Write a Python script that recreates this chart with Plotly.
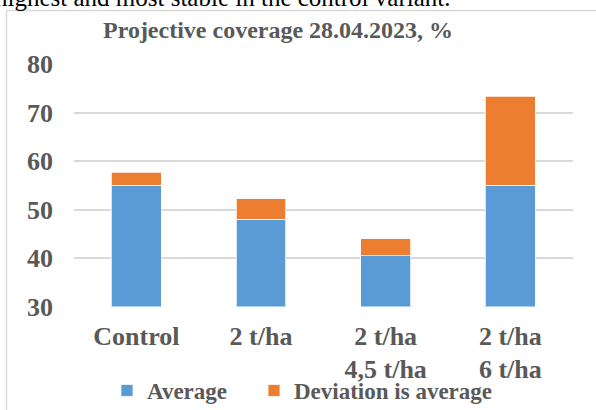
import plotly.graph_objects as go

# Projective coverage, 28.04.2023 (%)
categories = ["Control", "2 t/ha", "2 t/ha<br>4,5 t/ha", "2 t/ha<br>6 t/ha"]
average = [55.0, 48.0, 40.5, 55.0]
deviation = [2.7, 4.2, 3.5, 18.4]
y_ticks = [30, 40, 50, 60, 70, 80]

W, H = 596, 410
FONT = "Liberation Serif"
GREY = "#595959"
GRID = "#d9d9d9"


def px(x):
    return x / W


def py(y):
    return 1 - y / H


fig = go.Figure()
fig.add_trace(go.Bar(
    x=categories, y=average, name="Average",
    marker=dict(color="#5B9BD5", line=dict(color="white", width=0.75)),
    legendwidth=102,
))
fig.add_trace(go.Bar(
    x=categories, y=deviation, name="Deviation is average",
    marker=dict(color="#ED7D31", line=dict(color="white", width=0.75)),
))

fig.update_layout(
    width=W, height=H,
    margin=dict(l=0, r=0, t=0, b=0, autoexpand=False),
    paper_bgcolor="white", plot_bgcolor="white",
    barmode="stack", bargap=0.6,
    font=dict(family=FONT, color=GREY),
    showlegend=True,
    legend=dict(
        orientation="h", x=px(107), y=py(369), xanchor="left", yanchor="top",
        font=dict(family=FONT, size=23, color=GREY, weight="bold"),
        bgcolor="rgba(0,0,0,0)", traceorder="normal",
    ),
    xaxis=dict(
        domain=[px(74), px(572.7)], showgrid=False, showline=False,
        ticks="", tickfont=dict(family=FONT, size=26, color=GREY, weight="bold"),
        ticklabelstandoff=11, automargin=False,
    ),
    yaxis=dict(
        domain=[py(306.5), py(64)], range=[30, 80], tickvals=y_ticks,
        showgrid=True, gridcolor=GRID, gridwidth=1.5, zeroline=False,
        showline=False, ticks="",
        tickfont=dict(family=FONT, size=26, color=GREY, weight="bold"),
        ticklabelstandoff=20, automargin=False,
    ),
    shapes=[
        dict(type="line", xref="paper", yref="paper",
             x0=px(6.5), x1=px(6.5), y0=py(10.5), y1=0,
             line=dict(color=GRID, width=1.5)),
        dict(type="line", xref="paper", yref="paper",
             x0=px(6.5), x1=1, y0=py(10.5), y1=py(10.5),
             line=dict(color=GRID, width=1.5)),
    ],
    annotations=[
        dict(text="Projective coverage 28.04.2023, %", xref="paper", yref="paper",
             x=px(278), y=py(30), xanchor="center", yanchor="middle",
             showarrow=False,
             font=dict(family=FONT, size=24, color=GREY, weight="bold")),
        dict(text="highest and most stable in the control variant.",
             xref="paper", yref="paper", x=px(452), y=py(13),
             xanchor="right", yanchor="bottom", showarrow=False,
             font=dict(family=FONT, size=25, color="black")),
    ],
)

fig.write_html("out.html")
